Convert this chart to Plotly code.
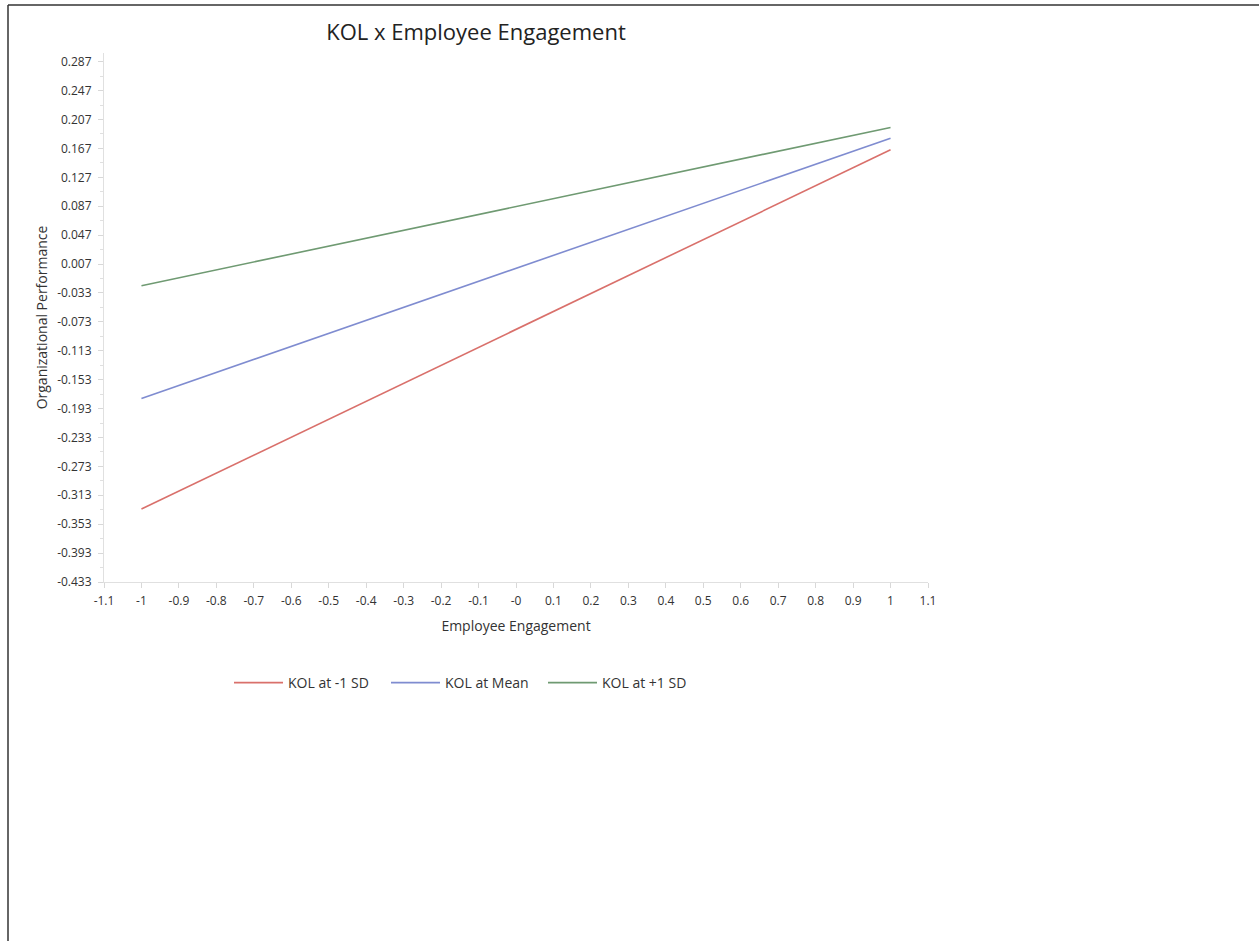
import plotly.graph_objects as go

# Data
x_vals = [-1, 1]
kol_minus_sd = [-0.332, 0.165]
kol_mean = [-0.179, 0.181]
kol_plus_sd = [-0.023, 0.196]
series_names = ["KOL at -1 SD", "KOL at Mean", "KOL at +1 SD"]
series_colors = ["#d9706b", "#7f8cd0", "#6f9a72"]

x_tickvals = [-1.1, -1, -0.9, -0.8, -0.7, -0.6, -0.5, -0.4, -0.3, -0.2, -0.1, 0,
              0.1, 0.2, 0.3, 0.4, 0.5, 0.6, 0.7, 0.8, 0.9, 1, 1.1]
x_ticktext = ["-1.1", "-1", "-0.9", "-0.8", "-0.7", "-0.6", "-0.5", "-0.4", "-0.3",
              "-0.2", "-0.1", "-0", "0.1", "0.2", "0.3", "0.4", "0.5", "0.6", "0.7",
              "0.8", "0.9", "1", "1.1"]
y_tickvals = [0.287, 0.247, 0.207, 0.167, 0.127, 0.087, 0.047, 0.007, -0.033, -0.073,
              -0.113, -0.153, -0.193, -0.233, -0.273, -0.313, -0.353, -0.393, -0.433]
y_ticktext = ["0.287", "0.247", "0.207", "0.167", "0.127", "0.087", "0.047", "0.007",
              "-0.033", "-0.073", "-0.113", "-0.153", "-0.193", "-0.233", "-0.273",
              "-0.313", "-0.353", "-0.393", "-0.433"]

FONT = "Open Sans, Noto Sans, sans-serif"

fig = go.Figure()
for name, ys, col in zip(series_names, [kol_minus_sd, kol_mean, kol_plus_sd], series_colors):
    fig.add_trace(go.Scatter(x=x_vals, y=ys, mode="lines", name=name,
                             line=dict(color=col, width=1.6)))

W, H = 1259, 941
L, R, T, B = 104, 1259 - 928, 53, 941 - 582
pw, ph = W - L - R, H - T - B

fig.update_layout(
    width=W, height=H,
    margin=dict(l=L, r=R, t=T, b=B),
    paper_bgcolor="white", plot_bgcolor="white",
    font=dict(family=FONT, color="#333333"),
    title=dict(text="KOL x Employee Engagement", x=476 / W, xanchor="center",
               y=1 - 32 / H, yanchor="middle",
               font=dict(size=22, color="#222222", family=FONT)),
    showlegend=True,
    legend=dict(orientation="h", x=(229 - L) / pw, xanchor="left",
                y=(582 - 683) / ph, yanchor="middle",
                font=dict(size=14, color="#333333"), itemwidth=49,
                entrywidth=93, entrywidthmode="pixels"),
    xaxis=dict(range=[-1.1, 1.1], tickvals=x_tickvals, ticktext=x_ticktext,
               showgrid=False, zeroline=False, showline=True, linecolor="#e0e0e0",
               linewidth=1, ticks="outside", ticklen=5, tickcolor="#d8d8d8",
               ticklabelstandoff=3,
               tickfont=dict(size=12, color="#333333"),
               title=dict(text="Employee Engagement", font=dict(size=14, color="#333333"),
                          standoff=12)),
    yaxis=dict(range=[-0.433, 0.299], tickvals=y_tickvals, ticktext=y_ticktext,
               showgrid=False, zeroline=False, showline=True, linecolor="#e0e0e0",
               linewidth=1, ticks="outside", ticklen=5, tickcolor="#d8d8d8",
               ticklabelstandoff=4,
               tickfont=dict(size=12, color="#333333"),
               minor=dict(tickvals=[v - 0.02 for v in y_tickvals[:-1]], ticks="outside",
                          ticklen=3, tickcolor="#e0e0e0"),
               title=dict(text="Organizational Performance", font=dict(size=14, color="#333333"),
                          standoff=6)),
)

# outer frame (left and top edges)
fig.add_shape(type="line", xref="paper", yref="paper",
              x0=(8 - L) / pw, x1=(8 - L) / pw, y0=(582 - 5) / ph, y1=(582 - 941) / ph,
              line=dict(color="#333333", width=1.5))
fig.add_shape(type="line", xref="paper", yref="paper",
              x0=(8 - L) / pw, x1=(1259 - L) / pw, y0=(582 - 5) / ph, y1=(582 - 5) / ph,
              line=dict(color="#333333", width=1.5))

fig.write_html("out.html", config={"displayModeBar": False},
               post_script="document.body.style.margin='0px';")
